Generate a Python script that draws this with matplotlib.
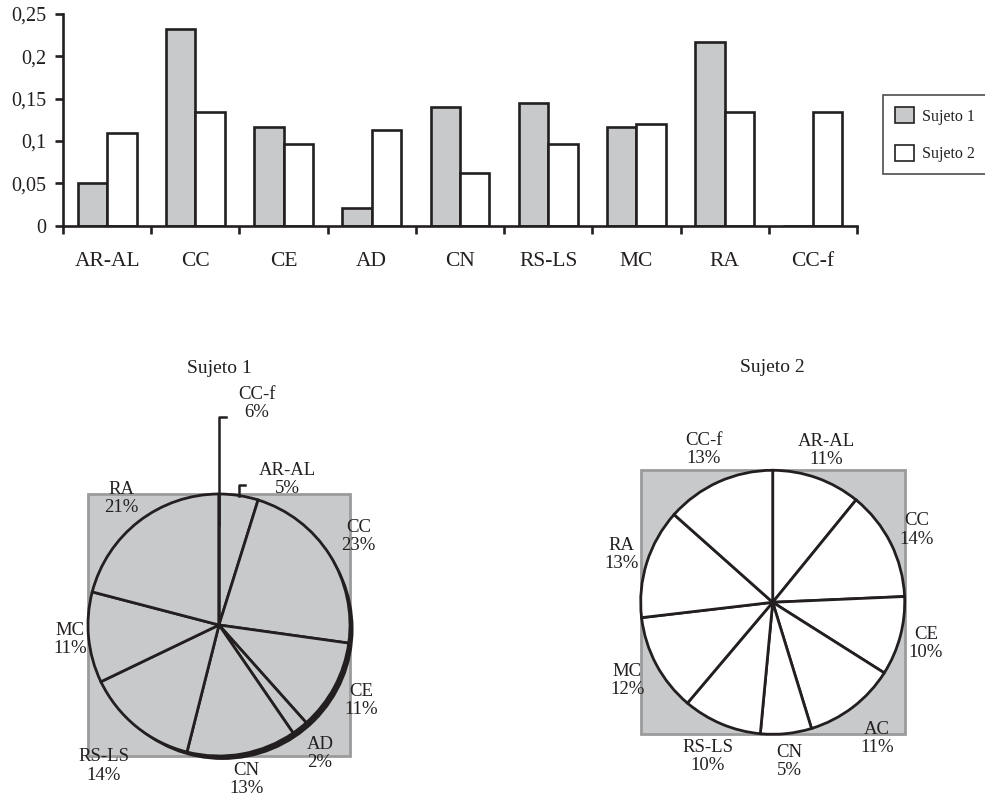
import matplotlib
matplotlib.use("Agg")
import matplotlib.pyplot as plt
from matplotlib.patches import Rectangle, Circle
from matplotlib.ticker import FuncFormatter, FixedLocator
import numpy as np

plt.rcParams['font.family'] = ['Liberation Serif', 'DejaVu Serif']
plt.rcParams['text.color'] = '#231f20'

# datos
categorias = ["AR-AL", "CC", "CE", "AD", "CN", "RS-LS", "MC", "RA", "CC-f"]
sujeto1 = [0.050, 0.232, 0.116, 0.021, 0.140, 0.1445, 0.116, 0.217, 0.0]
sujeto2 = [0.109, 0.1346, 0.097, 0.113, 0.0626, 0.097, 0.120, 0.1346, 0.1346]
yticks = [0, 0.05, 0.1, 0.15, 0.2, 0.25]

nombres1 = ["AR-AL", "CC", "CE", "AD", "CN", "RS-LS", "MC", "RA", "CC-f"]
pct1 = ["5%", "23%", "11%", "2%", "13%", "14%", "11%", "21%", "6%"]
nombres2 = ["AR-AL", "CC", "CE", "AC", "CN", "RS-LS", "MC", "RA", "CC-f"]
pct2 = ["11%", "14%", "10%", "11%", "5%", "10%", "12%", "13%", "13%"]

gris = '#c8c9cb'
borde = '#9b9b9b'
negro = '#231f20'
W, H = 985, 797

fig = plt.figure(figsize=(9.85, 7.97), dpi=100)

# ---- barras ----
ax = fig.add_axes([63 / W, 1 - 225.7 / H, 794 / W, 211.7 / H])
x = np.arange(len(categorias)) + 0.5
bw = 0.334
ax.bar(x - bw / 2, sujeto1, bw, color=gris, edgecolor=negro, linewidth=1.9, label="Sujeto 1")
ax.bar(x + bw / 2, sujeto2, bw, color='white', edgecolor=negro, linewidth=1.9, label="Sujeto 2")
ax.set_xlim(0, len(categorias))
ax.set_ylim(0, 0.25)
for s in ['top', 'right']:
    ax.spines[s].set_visible(False)
for s in ['left', 'bottom']:
    ax.spines[s].set_linewidth(1.9)
    ax.spines[s].set_color(negro)
ax.set_yticks(yticks)
ax.yaxis.set_major_formatter(FuncFormatter(lambda v, p: ('%g' % v).replace('.', ',')))
ax.tick_params(axis='y', direction='out', length=6, width=1.9, pad=6, labelsize=14.5, colors=negro)
ax.xaxis.set_major_locator(FixedLocator(np.arange(len(categorias) + 1)))
ax.xaxis.set_minor_locator(FixedLocator(x))
ax.set_xticklabels([], minor=False)
ax.set_xticklabels(categorias, minor=True)
ax.tick_params(axis='x', which='major', direction='out', length=6, width=1.9, colors=negro)
ax.tick_params(axis='x', which='minor', length=0, pad=19, labelsize=15.5, colors=negro)

leg = fig.legend(loc='upper left', bbox_to_anchor=(883 / W, 1 - 95 / H), fontsize=11.5,
                 frameon=True, fancybox=False, handlelength=1.2, handleheight=1.2,
                 handletextpad=0.5, labelspacing=1.25, borderpad=0.75, borderaxespad=0)
leg.get_frame().set_edgecolor(negro)
leg.get_frame().set_linewidth(1.2)
for h in leg.legend_handles:
    h.set_linewidth(1.2)


def tarta(cx, cy, r, valores, nombres, pct, color, dist, titulo, ty):
    half = 1.5 * r
    a = fig.add_axes([(cx - half) / W, 1 - (cy + half) / H, 2 * half / W, 2 * half / H])
    a.add_patch(Rectangle((-1, -1), 2, 2, facecolor=gris, edgecolor=borde, linewidth=2, zorder=0))
    wedges, _ = a.pie(valores, startangle=90, counterclock=False, radius=1,
                      wedgeprops=dict(facecolor=color, edgecolor=negro, linewidth=2.0))
    for w in wedges:
        w.set_zorder(2)
    a.set_xlim(-1.5, 1.5)
    a.set_ylim(-1.5, 1.5)
    a.set_aspect('equal')
    a.axis('off')
    for w, n, p, d in zip(wedges, nombres, pct, dist):
        if d is None:
            continue
        th = np.deg2rad((w.theta1 + w.theta2) / 2)
        a.text(d * np.cos(th), d * np.sin(th), n + "\n" + p, ha='center', va='center',
               fontsize=13.5, linespacing=1.08, zorder=5)
    a.text(0, ty, titulo, ha='center', va='center', fontsize=14)
    return a, wedges


# ---- Sujeto 1 ----
dist1 = [None, 1.26, 1.23, 1.25, 1.2, 1.39, 1.14, 1.22, None]
a1, w1 = tarta(219, 625, 131, sujeto1, nombres1, pct1, gris, dist1, "Sujeto 1", 1.96)
# sombra
a1.add_patch(Circle((0.027, -0.03), 1.0, facecolor=negro, edgecolor='none', zorder=1))
# etiquetas con linea guia
th = np.deg2rad((w1[8].theta1 + w1[8].theta2) / 2)
a1.plot([0.76 * np.cos(th)] * 2 + [0.76 * np.cos(th) + 0.055], [0.76, 1.59, 1.59],
        color=negro, lw=1.8, clip_on=False, zorder=6)
a1.text(0.29, 1.69, nombres1[8] + "\n" + pct1[8], ha='center', va='center', fontsize=13.5, linespacing=1.08)
th = np.deg2rad((w1[0].theta1 + w1[0].theta2) / 2)
a1.plot([np.cos(th)] * 2 + [np.cos(th) + 0.05], [np.sin(th), 1.07, 1.07],
        color=negro, lw=1.8, clip_on=False, zorder=6)
a1.text(0.52, 1.11, nombres1[0] + "\n" + pct1[0], ha='center', va='center', fontsize=13.5, linespacing=1.08)

# ---- Sujeto 2 ----
dist2 = [1.22, 1.22, 1.2, 1.3, 1.21, 1.27, 1.25, 1.2, 1.27]
a2, w2 = tarta(772.7, 602.3, 132, sujeto2, nombres2, pct2, 'white', dist2, "Sujeto 2", 1.775)

fig.savefig("out.png", dpi=100)
